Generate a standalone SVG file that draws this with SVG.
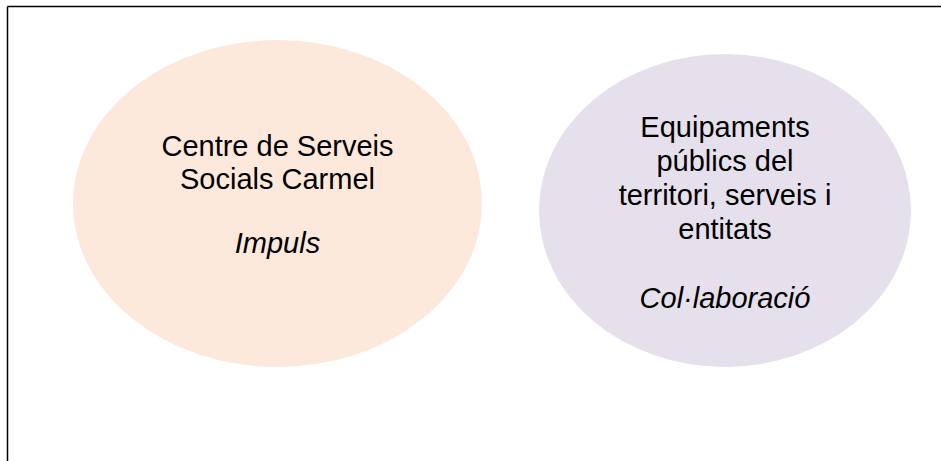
<svg xmlns="http://www.w3.org/2000/svg" width="941" height="461" viewBox="0 0 941 461">
<style>
.t{font-family:"Liberation Sans",Arial,sans-serif;font-size:29px;fill:#000;text-anchor:middle}
.i{font-style:italic}
</style>
<rect width="941" height="461" fill="#fff"/>
<g id="frame" stroke="#000" stroke-width="1.5" fill="none">
<line x1="7.5" y1="6.5" x2="941" y2="6.5"/>
<line x1="7.5" y1="6.5" x2="7.5" y2="461"/>
</g>
<g id="node-centre">
<ellipse cx="277.5" cy="203.5" rx="204.5" ry="163.5" fill="#FCE9DC"/>
<text class="t" x="277.5" y="155.5">Centre de Serveis</text>
<text class="t" x="277.5" y="189">Socials Carmel</text>
<text class="t i" x="277.5" y="253">Impuls</text>
</g>
<g id="node-equipaments">
<ellipse cx="725" cy="210.5" rx="186" ry="156.5" fill="#E5E0EC"/>
<text class="t" x="725" y="137">Equipaments</text>
<text class="t" x="725" y="171">públics del</text>
<text class="t" x="725" y="205">territori, serveis i</text>
<text class="t" x="725" y="239">entitats</text>
<text class="t i" x="725" y="308">Col·laboració</text>
</g>
<g id="connectors"></g>
</svg>
